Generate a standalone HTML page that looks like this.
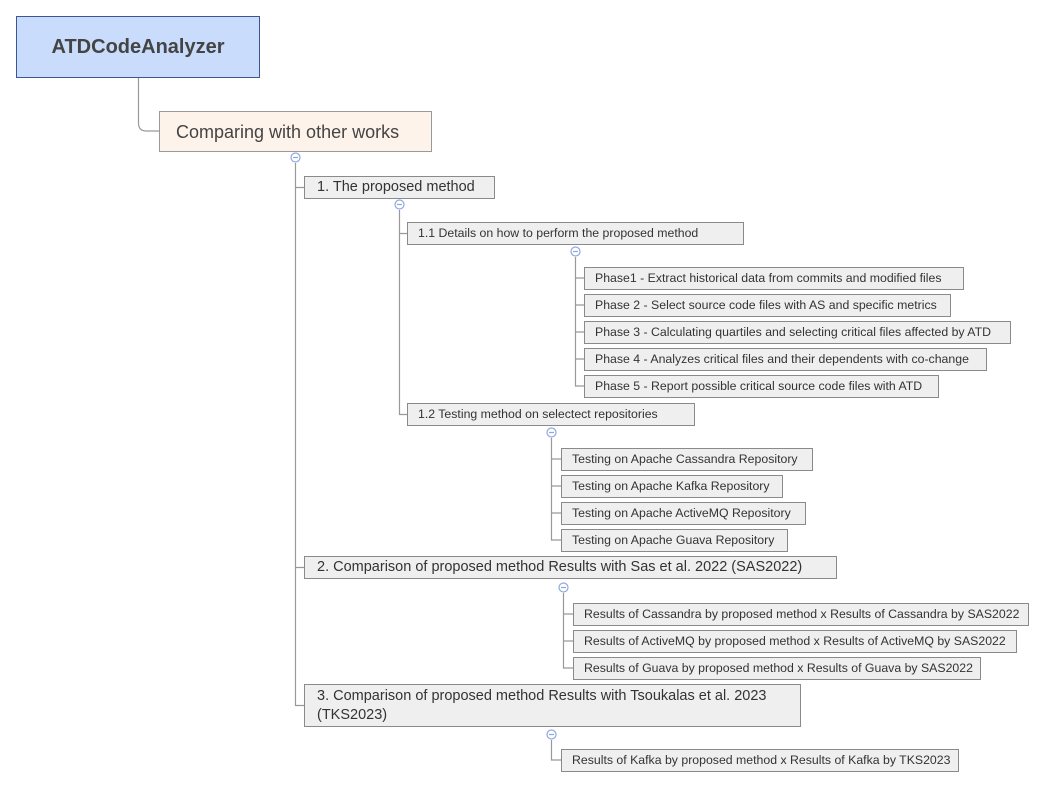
<!DOCTYPE html>
<html><head><meta charset="utf-8"><style>
body{margin:0;width:1045px;height:789px;background:#fff;position:relative;overflow:hidden;font-family:"Liberation Sans",sans-serif;color:#333}
.b{position:absolute;box-sizing:border-box;background:#efefef;border:1px solid #8a8a8a;white-space:nowrap;padding-left:10px;font-size:12.3px;line-height:21px;overflow:hidden}
.l1{font-size:14.5px;padding-left:12px}
svg{position:absolute;left:0;top:0}
</style></head><body>
<svg width="1045" height="789" fill="none" stroke="#999" stroke-width="1.2">
<path d="M138.5 77 V123 Q138.5 131 146 131 H159"/>
<path d="M295.5 163 V705.5 H304"/>
<path d="M295.5 187.5 H304 M295.5 567.5 H304"/>
<path d="M399.5 210 V414.5 H407 M399.5 233.5 H407"/>
<path d="M575.5 257 V386 H584 M575.5 278 H584 M575.5 305 H584 M575.5 332 H584 M575.5 359 H584"/>
<path d="M551.5 438 V540 H561 M551.5 459 H561 M551.5 486 H561 M551.5 513 H561"/>
<path d="M563.5 593 V668 H573 M563.5 614 H573 M563.5 641 H573"/>
<path d="M551.5 740 V760 H561"/>
<g stroke="#8fa8e0" fill="#fff">
<circle cx="295.5" cy="157.5" r="4.5"/><circle cx="399.5" cy="204.5" r="4.5"/><circle cx="575.5" cy="251.5" r="4.5"/>
<circle cx="551.5" cy="432.5" r="4.5"/><circle cx="563.5" cy="587.5" r="4.5"/><circle cx="551.5" cy="734.5" r="4.5"/>
<path d="M293 157.5h5M397 204.5h5M573 251.5h5M549 432.5h5M561 587.5h5M549 734.5h5"/>
</g>
</svg>
<div class="b" style="left:16px;top:16px;width:244px;height:62px;background:#c9dcfb;border-color:#3d5592;font-weight:bold;font-size:20px;line-height:60px;text-align:center;padding:0;color:#444">ATDCodeAnalyzer</div>
<div class="b" style="left:159px;top:111px;width:273px;height:41px;background:#fdf3ea;border-color:#999;font-size:18px;line-height:41px;padding-left:16px;color:#444">Comparing with other works</div>
<div class="b l1" style="left:304px;top:176px;width:191px;height:23px">1. The proposed method</div>
<div class="b" style="left:407px;top:222px;width:337px;height:23px">1.1 Details on how to perform the proposed method</div>
<div class="b" style="left:584px;top:267px;width:380px;height:23px">Phase1 - Extract historical data from commits and modified files</div>
<div class="b" style="left:584px;top:294px;width:367px;height:23px">Phase 2 - Select source code files with AS and specific metrics</div>
<div class="b" style="left:584px;top:321px;width:427px;height:23px">Phase 3 - Calculating quartiles and selecting critical files affected by ATD</div>
<div class="b" style="left:584px;top:348px;width:403px;height:23px">Phase 4 - Analyzes critical files and their dependents with co-change</div>
<div class="b" style="left:584px;top:375px;width:355px;height:23px">Phase 5 - Report possible critical source code files with ATD</div>
<div class="b" style="left:407px;top:403px;width:288px;height:23px">1.2 Testing method on selectect repositories</div>
<div class="b" style="left:561px;top:448px;width:252px;height:23px">Testing on Apache Cassandra Repository</div>
<div class="b" style="left:561px;top:475px;width:222px;height:23px">Testing on Apache Kafka Repository</div>
<div class="b" style="left:561px;top:502px;width:245px;height:23px">Testing on Apache ActiveMQ Repository</div>
<div class="b" style="left:561px;top:529px;width:227px;height:23px">Testing on Apache Guava Repository</div>
<div class="b l1" style="left:304px;top:556px;width:533px;height:23px">2. Comparison of proposed method Results with Sas et al. 2022 (SAS2022)</div>
<div class="b" style="left:573px;top:603px;width:456px;height:23px">Results of Cassandra by proposed method x Results of Cassandra by SAS2022</div>
<div class="b" style="left:573px;top:630px;width:444px;height:23px">Results of ActiveMQ by proposed method x Results of ActiveMQ by SAS2022</div>
<div class="b" style="left:573px;top:657px;width:408px;height:23px">Results of Guava by proposed method x Results of Guava by SAS2022</div>
<div class="b l1" style="left:304px;top:684px;width:497px;height:43px;line-height:19px;padding-top:2px">3. Comparison of proposed method Results with Tsoukalas et al. 2023<br>(TKS2023)</div>
<div class="b" style="left:561px;top:749px;width:398px;height:23px">Results of Kafka by proposed method x Results of Kafka by TKS2023</div>
</body></html>
